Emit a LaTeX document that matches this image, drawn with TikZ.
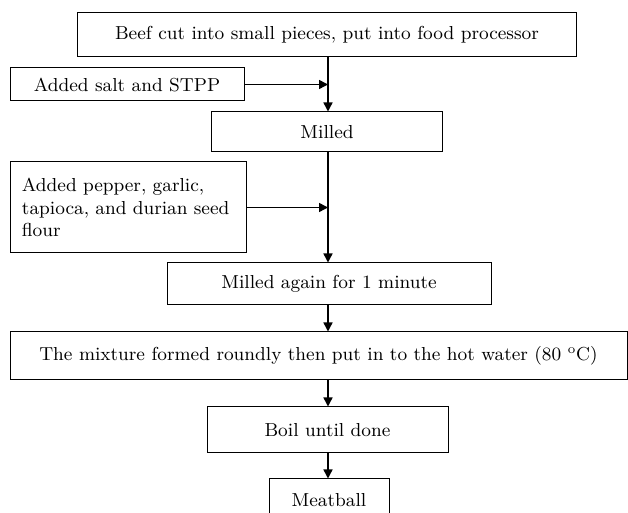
\documentclass[tikz,border=0pt]{standalone}
\usetikzlibrary{arrows.meta,positioning}

\begin{document}
\begin{tikzpicture}[
    x=0.5pt, y=-0.5pt,
    font=\fontsize{9.4}{11.3}\selectfont,
    stepbox/.style={rectangle, draw, line width=0.5pt, inner sep=2pt, align=center},
    flow/.style={-{Triangle[length=4.5pt, width=4.5pt]}, line width=0.75pt},
  ]
    \useasboundingbox (0,0) rectangle (628,513);

    % main line
    \node[stepbox, minimum width=249.5pt, minimum height=22pt] (beef) at (327,35) {Beef cut into small pieces, put into food processor};
    \node[stepbox, minimum width=115.5pt, minimum height=20pt] (mill) at (327,132) {Milled};
    \node[stepbox, minimum width=162pt, minimum height=21pt] (mill2) at (329,284) {Milled again for 1 minute};
    \node[stepbox, minimum width=308.5pt, minimum height=24pt] (mix) at (318.5,356) {The mixture formed roundly then put in to the hot water (80 \textsuperscript{o}C)};
    \node[stepbox, minimum width=120.5pt, minimum height=23pt] (boil) at (327.5,430) {Boil until done};
    \node[stepbox, minimum width=60pt, minimum height=21pt] (ball) at (329,500) {Meatball};

    % added ingredients
    \node[stepbox, minimum width=117pt, minimum height=16.5pt] (salt) at (127,84.5) {Added salt and STPP};
    \node[stepbox, text width=106pt, align=left, inner sep=6pt, minimum height=45.5pt] (spice) at (128,207.5) {Added pepper, garlic,\\ tapioca, and durian seed\\ flour};

    \coordinate (line) at (328,0);

    \draw[flow] (beef.south -| line) -- (mill.north -| line);
    \draw[flow] (mill.south -| line) -- (mill2.north -| line);
    \draw[flow] (mill2.south -| line) -- (mix.north -| line);
    \draw[flow] (mix.south -| line) -- (boil.north -| line);
    \draw[flow] (boil.south -| line) -- (ball.north -| line);
    \draw[flow] (salt.east) -- (salt.east -| line);
    \draw[flow] (spice.east) -- (spice.east -| line);
  \end{tikzpicture}
\end{document}
